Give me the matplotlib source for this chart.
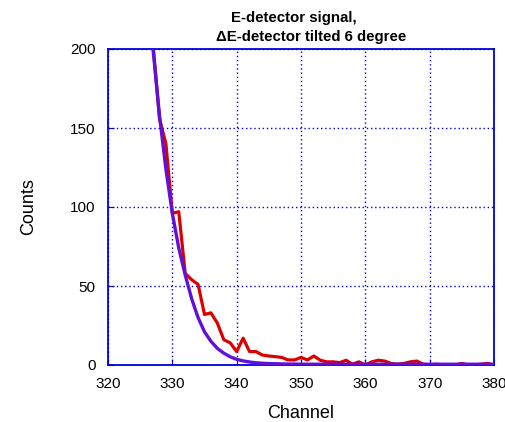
import matplotlib.pyplot as plt

plt.rcParams["font.family"] = ["Liberation Sans", "DejaVu Sans"]

# measured spectrum (counts per channel)
channels = list(range(325, 381))
counts = [330, 255, 203, 156, 140, 96, 97, 58, 54, 51, 32, 33, 26.5, 16, 14, 8.5,
          17, 8.5, 8.5, 6.3, 5.7, 5.3, 4.8, 3.2, 3.2, 4.8, 3.2, 5.7, 3, 2,
          2, 1.5, 3, 0.5, 2, 0, 2, 3, 2.5, 1, 0.5, 1, 2, 2.5, 0.5, 0,
          0.5, 0, 0, 0, 1, 0, 0, 0.5, 1, 0]

# fitted curve
fit = [320, 252, 200, 158, 124, 96, 74, 57, 42, 30, 21, 15, 10.5, 7.5, 5.2, 3.6,
       2.6, 1.9, 1.4, 1.1, 0.9, 0.8, 0.7, 0.6, 0.6, 0.5, 0.5, 0.5, 0.5, 0.5,
       0.5, 0.5, 0.5, 0.5, 0.5, 0.5, 0.5, 0.5, 0.5, 0.5, 0.5, 0.5, 0.5, 0.5, 0.5, 0.5,
       0.5, 0.5, 0.5, 0.5, 0.5, 0.5, 0.5, 0.5, 0.5, 0.5]

xticks = [320, 330, 340, 350, 360, 370, 380]
yticks = [0, 50, 100, 150, 200]

fig = plt.figure(figsize=(5.06, 4.22), dpi=100)
ax = fig.add_axes([108 / 506, 57 / 422, 386 / 506, 316 / 422])

ax.plot(channels, counts, color="#dd0000", lw=2.3, zorder=3)
ax.plot(channels, fit, color="#6010d8", lw=2.4, zorder=4)

ax.set_xlim(320, 380)
ax.set_ylim(0, 200)
ax.set_xticks(xticks)
ax.set_yticks(yticks)
ax.grid(True, color="#0000e0", linestyle=(0, (1, 2)), linewidth=1.0)
for s in ax.spines.values():
    s.set_color("#0000e0")
    s.set_linewidth(1.3)
ax.tick_params(direction="in", length=4, color="#0000e0", labelsize=11)
ax.tick_params(axis="x", pad=9)
ax.tick_params(axis="y", pad=9)

ax.set_xlabel("Channel", fontsize=13, labelpad=10)
ax.set_ylabel("Counts", fontsize=13, labelpad=24)

fig.text(294 / 506, 1 - 18 / 422, "E-detector signal,", ha="center",
         va="center", fontsize=10.8, fontweight="bold")
fig.text(311 / 506, 1 - 37 / 422, "ΔE-detector tilted 6 degree", ha="center",
         va="center", fontsize=10.8, fontweight="bold")

fig.savefig("out.png", dpi=100)
